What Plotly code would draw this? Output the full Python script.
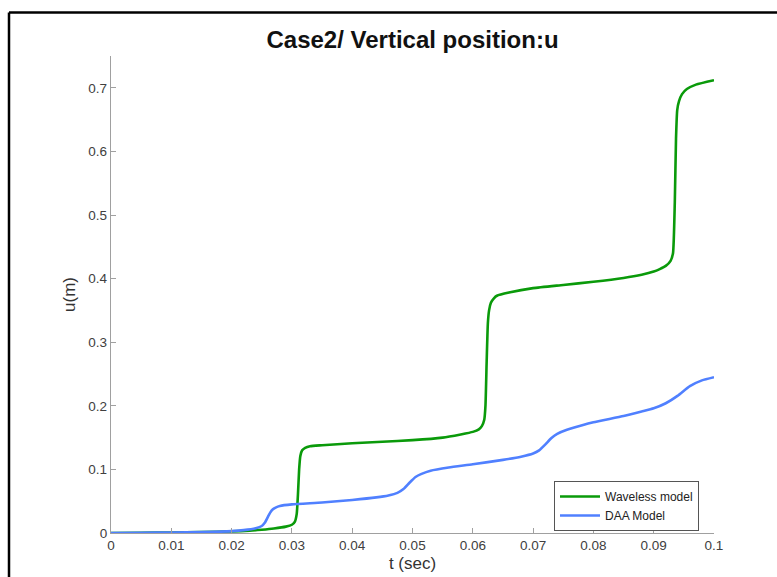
import plotly.graph_objects as go

# Waveless model
t_w = [0, 0.005, 0.01, 0.015, 0.02, 0.023, 0.025, 0.027, 0.029, 0.0300, 0.0305, 0.0308,
       0.0310, 0.0312, 0.0314, 0.0317, 0.0322, 0.033, 0.035, 0.04, 0.045, 0.05, 0.055,
       0.058, 0.060, 0.061, 0.0615, 0.0619, 0.0621, 0.0623, 0.0625, 0.0627, 0.063, 0.0635,
       0.064, 0.066, 0.07, 0.075, 0.08, 0.085, 0.088, 0.09, 0.091, 0.092, 0.0928, 0.0932,
       0.0935, 0.0937, 0.0939, 0.0942, 0.0947, 0.0955, 0.097, 0.1]
u_w = [0, 0.0003, 0.0008, 0.0015, 0.0025, 0.0035, 0.005, 0.007, 0.010, 0.013, 0.018, 0.03,
       0.06, 0.10, 0.121, 0.13, 0.134, 0.1365, 0.138, 0.141, 0.1435, 0.146, 0.150,
       0.155, 0.159, 0.163, 0.168, 0.178, 0.20, 0.27, 0.33, 0.35, 0.362, 0.369,
       0.373, 0.378, 0.385, 0.390, 0.395, 0.401, 0.406, 0.411, 0.415, 0.42, 0.428, 0.44,
       0.52, 0.62, 0.665, 0.679, 0.690, 0.698, 0.705, 0.712]

# DAA Model
t_d = [0, 0.005, 0.01, 0.015, 0.02, 0.022, 0.024, 0.025, 0.0255, 0.026, 0.0264, 0.0268,
       0.0273, 0.028, 0.03, 0.035, 0.04, 0.044, 0.046, 0.0475, 0.0485, 0.0495, 0.0505,
       0.0515, 0.053, 0.056, 0.06, 0.065, 0.068, 0.07, 0.071, 0.072, 0.073, 0.074, 0.0755,
       0.078, 0.08, 0.085, 0.088, 0.09, 0.092, 0.094, 0.096, 0.098, 0.1]
u_d = [0, 0.0003, 0.0008, 0.0015, 0.003, 0.0045, 0.0075, 0.011, 0.016, 0.025, 0.032, 0.037,
       0.040, 0.0425, 0.045, 0.048, 0.052, 0.056, 0.059, 0.063, 0.069, 0.079, 0.088,
       0.093, 0.098, 0.103, 0.108, 0.115, 0.12, 0.125, 0.13, 0.139, 0.149, 0.156, 0.162,
       0.169, 0.174, 0.184, 0.191, 0.196, 0.204, 0.216, 0.231, 0.240, 0.245]

x_ticks = [0, 0.01, 0.02, 0.03, 0.04, 0.05, 0.06, 0.07, 0.08, 0.09, 0.1]
x_tick_text = ["0", "0.01", "0.02", "0.03", "0.04", "0.05", "0.06", "0.07", "0.08", "0.09", "0.1"]
y_ticks = [0, 0.1, 0.2, 0.3, 0.4, 0.5, 0.6, 0.7]
y_tick_text = ["0", "0.1", "0.2", "0.3", "0.4", "0.5", "0.6", "0.7"]

FONT = "Liberation Sans, Arial, Helvetica, sans-serif"
GREEN = "#0a9a0a"
BLUE = "#5080ff"

fig = go.Figure()
fig.add_trace(go.Scatter(x=t_w, y=u_w, mode="lines", name="Waveless model",
                         line=dict(color=GREEN, width=2.6, shape="spline", smoothing=0.5)))
fig.add_trace(go.Scatter(x=t_d, y=u_d, mode="lines", name="DAA Model",
                         line=dict(color=BLUE, width=2.6, shape="spline", smoothing=0.5)))

L, R, T, B = 111, 63, 56, 44
W, H = 777, 577
pw, ph = W - L - R, H - T - B

def px(x):
    return (x - L) / pw

def py(y):
    return (H - B - y) / ph

fig.update_layout(
    width=W, height=H,
    margin=dict(l=L, r=R, t=T, b=B, autoexpand=False),
    paper_bgcolor="white", plot_bgcolor="white",
    font=dict(family=FONT, color="#333333"),
    title=dict(text="<b>Case2/ Vertical position:u</b>", x=(L + pw / 2) / W, xanchor="center",
               y=1 - 40 / H, yanchor="middle", yref="container",
               font=dict(size=24, color="#111111", family=FONT)),
    xaxis=dict(range=[0, 0.1], tickvals=x_ticks, ticktext=x_tick_text, automargin=False,
               showgrid=False, zeroline=False, showline=True, linecolor="#a0a0a0", linewidth=1.3,
               ticks="inside", ticklen=5, tickcolor="#a0a0a0", tickwidth=1,
               tickfont=dict(size=13.5, color="#404040"),
               title=dict(text="t (sec)", font=dict(size=17, color="#333333"), standoff=4)),
    yaxis=dict(range=[0, 0.75], tickvals=y_ticks, ticktext=y_tick_text, automargin=False,
               showgrid=False, zeroline=False, showline=True, linecolor="#a0a0a0", linewidth=1.3,
               ticks="inside", ticklen=5, tickcolor="#a0a0a0", tickwidth=1,
               tickfont=dict(size=13.5, color="#404040"),
               title=dict(text="u(m)", font=dict(size=17, color="#333333"), standoff=8)),
    legend=dict(x=px(554), y=py(481), xanchor="left", yanchor="top",
                bgcolor="white", bordercolor="#555555", borderwidth=1,
                font=dict(size=12, color="#222222", family=FONT),
                itemwidth=40, tracegroupgap=0),
    shapes=[
        dict(type="line", xref="paper", yref="paper", x0=px(9), x1=px(800), y0=py(12.5), y1=py(12.5),
             line=dict(color="black", width=2.5)),
        dict(type="line", xref="paper", yref="paper", x0=px(9), x1=px(9), y0=py(12.5), y1=py(600),
             line=dict(color="black", width=2.5)),
    ],
)

fig.write_html("out.html")
